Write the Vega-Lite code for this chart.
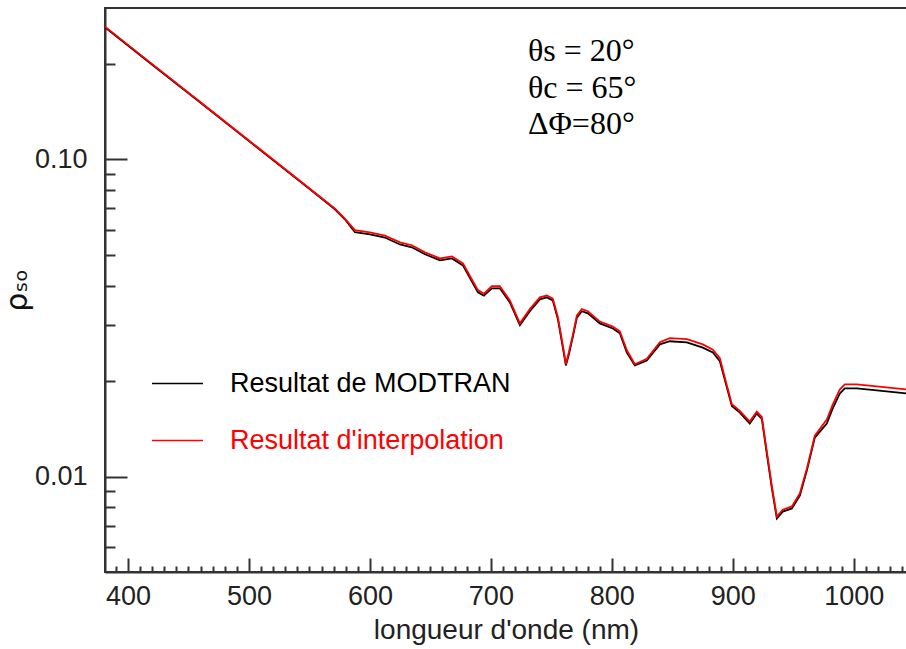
{
  "$schema": "https://vega.github.io/schema/vega-lite/v6.json",
  "width": 802,
  "height": 564,
  "autosize": {"type": "none"},
  "padding": {"left": 105, "top": 8, "right": 0, "bottom": 77},
  "background": "white",
  "config": {"view": {"stroke": "#333", "strokeWidth": 2}, "font": "Liberation Sans"},
  "datasets": {
    "curves": [
      {"lam": 381.0, "val": 0.2609, "series": "Resultat de MODTRAN"},
      {"lam": 418.2, "val": 0.2013, "series": "Resultat de MODTRAN"},
      {"lam": 459.5, "val": 0.1513, "series": "Resultat de MODTRAN"},
      {"lam": 500.8, "val": 0.1135, "series": "Resultat de MODTRAN"},
      {"lam": 542.1, "val": 0.0852, "series": "Resultat de MODTRAN"},
      {"lam": 558.7, "val": 0.0759, "series": "Resultat de MODTRAN"},
      {"lam": 571.1, "val": 0.0696, "series": "Resultat de MODTRAN"},
      {"lam": 579.3, "val": 0.0647, "series": "Resultat de MODTRAN"},
      {"lam": 587.6, "val": 0.0589, "series": "Resultat de MODTRAN"},
      {"lam": 600.0, "val": 0.0580, "series": "Resultat de MODTRAN"},
      {"lam": 612.4, "val": 0.0567, "series": "Resultat de MODTRAN"},
      {"lam": 624.8, "val": 0.0539, "series": "Resultat de MODTRAN"},
      {"lam": 634.7, "val": 0.0528, "series": "Resultat de MODTRAN"},
      {"lam": 645.5, "val": 0.0502, "series": "Resultat de MODTRAN"},
      {"lam": 657.9, "val": 0.0480, "series": "Resultat de MODTRAN"},
      {"lam": 667.8, "val": 0.0487, "series": "Resultat de MODTRAN"},
      {"lam": 676.9, "val": 0.0463, "series": "Resultat de MODTRAN"},
      {"lam": 684.3, "val": 0.0412, "series": "Resultat de MODTRAN"},
      {"lam": 689.3, "val": 0.0381, "series": "Resultat de MODTRAN"},
      {"lam": 694.2, "val": 0.0372, "series": "Resultat de MODTRAN"},
      {"lam": 700.8, "val": 0.0392, "series": "Resultat de MODTRAN"},
      {"lam": 707.4, "val": 0.0392, "series": "Resultat de MODTRAN"},
      {"lam": 715.7, "val": 0.0354, "series": "Resultat de MODTRAN"},
      {"lam": 724.0, "val": 0.0300, "series": "Resultat de MODTRAN"},
      {"lam": 732.2, "val": 0.0332, "series": "Resultat de MODTRAN"},
      {"lam": 740.5, "val": 0.0362, "series": "Resultat de MODTRAN"},
      {"lam": 746.3, "val": 0.0367, "series": "Resultat de MODTRAN"},
      {"lam": 751.2, "val": 0.0359, "series": "Resultat de MODTRAN"},
      {"lam": 755.4, "val": 0.0313, "series": "Resultat de MODTRAN"},
      {"lam": 759.5, "val": 0.0255, "series": "Resultat de MODTRAN"},
      {"lam": 762.0, "val": 0.0224, "series": "Resultat de MODTRAN"},
      {"lam": 764.5, "val": 0.0243, "series": "Resultat de MODTRAN"},
      {"lam": 767.8, "val": 0.0276, "series": "Resultat de MODTRAN"},
      {"lam": 771.1, "val": 0.0317, "series": "Resultat de MODTRAN"},
      {"lam": 775.2, "val": 0.0332, "series": "Resultat de MODTRAN"},
      {"lam": 780.2, "val": 0.0327, "series": "Resultat de MODTRAN"},
      {"lam": 790.1, "val": 0.0304, "series": "Resultat de MODTRAN"},
      {"lam": 800.8, "val": 0.0293, "series": "Resultat de MODTRAN"},
      {"lam": 806.6, "val": 0.0283, "series": "Resultat de MODTRAN"},
      {"lam": 812.4, "val": 0.0246, "series": "Resultat de MODTRAN"},
      {"lam": 819.0, "val": 0.0224, "series": "Resultat de MODTRAN"},
      {"lam": 828.9, "val": 0.0232, "series": "Resultat de MODTRAN"},
      {"lam": 839.7, "val": 0.0261, "series": "Resultat de MODTRAN"},
      {"lam": 847.9, "val": 0.0267, "series": "Resultat de MODTRAN"},
      {"lam": 862.0, "val": 0.0265, "series": "Resultat de MODTRAN"},
      {"lam": 875.2, "val": 0.0255, "series": "Resultat de MODTRAN"},
      {"lam": 883.5, "val": 0.0246, "series": "Resultat de MODTRAN"},
      {"lam": 889.3, "val": 0.0231, "series": "Resultat de MODTRAN"},
      {"lam": 893.4, "val": 0.0202, "series": "Resultat de MODTRAN"},
      {"lam": 899.2, "val": 0.0167, "series": "Resultat de MODTRAN"},
      {"lam": 905.8, "val": 0.0159, "series": "Resultat de MODTRAN"},
      {"lam": 914.0, "val": 0.0147, "series": "Resultat de MODTRAN"},
      {"lam": 919.8, "val": 0.0158, "series": "Resultat de MODTRAN"},
      {"lam": 924.0, "val": 0.0152, "series": "Resultat de MODTRAN"},
      {"lam": 928.1, "val": 0.0118, "series": "Resultat de MODTRAN"},
      {"lam": 932.2, "val": 0.00923, "series": "Resultat de MODTRAN"},
      {"lam": 936.4, "val": 0.00737, "series": "Resultat de MODTRAN"},
      {"lam": 941.3, "val": 0.00775, "series": "Resultat de MODTRAN"},
      {"lam": 948.8, "val": 0.00793, "series": "Resultat de MODTRAN"},
      {"lam": 955.4, "val": 0.00871, "series": "Resultat de MODTRAN"},
      {"lam": 961.2, "val": 0.01044, "series": "Resultat de MODTRAN"},
      {"lam": 967.8, "val": 0.01327, "series": "Resultat de MODTRAN"},
      {"lam": 977.7, "val": 0.01469, "series": "Resultat de MODTRAN"},
      {"lam": 982.6, "val": 0.01639, "series": "Resultat de MODTRAN"},
      {"lam": 988.4, "val": 0.01827, "series": "Resultat de MODTRAN"},
      {"lam": 992.6, "val": 0.01895, "series": "Resultat de MODTRAN"},
      {"lam": 1002.5, "val": 0.01895, "series": "Resultat de MODTRAN"},
      {"lam": 1019.0, "val": 0.01868, "series": "Resultat de MODTRAN"},
      {"lam": 1044.0, "val": 0.01827, "series": "Resultat de MODTRAN"},
      {"lam": 381.0, "val": 0.2619, "series": "Resultat d'interpolation"},
      {"lam": 418.2, "val": 0.2021, "series": "Resultat d'interpolation"},
      {"lam": 459.5, "val": 0.1519, "series": "Resultat d'interpolation"},
      {"lam": 500.8, "val": 0.1140, "series": "Resultat d'interpolation"},
      {"lam": 542.1, "val": 0.0856, "series": "Resultat d'interpolation"},
      {"lam": 558.7, "val": 0.0762, "series": "Resultat d'interpolation"},
      {"lam": 571.1, "val": 0.0699, "series": "Resultat d'interpolation"},
      {"lam": 579.3, "val": 0.0650, "series": "Resultat d'interpolation"},
      {"lam": 587.6, "val": 0.0598, "series": "Resultat d'interpolation"},
      {"lam": 600.0, "val": 0.0588, "series": "Resultat d'interpolation"},
      {"lam": 612.4, "val": 0.0575, "series": "Resultat d'interpolation"},
      {"lam": 624.8, "val": 0.0547, "series": "Resultat d'interpolation"},
      {"lam": 634.7, "val": 0.0536, "series": "Resultat d'interpolation"},
      {"lam": 645.5, "val": 0.0509, "series": "Resultat d'interpolation"},
      {"lam": 657.9, "val": 0.0487, "series": "Resultat d'interpolation"},
      {"lam": 667.8, "val": 0.0494, "series": "Resultat d'interpolation"},
      {"lam": 676.9, "val": 0.0470, "series": "Resultat d'interpolation"},
      {"lam": 684.3, "val": 0.0418, "series": "Resultat d'interpolation"},
      {"lam": 689.3, "val": 0.0387, "series": "Resultat d'interpolation"},
      {"lam": 694.2, "val": 0.0377, "series": "Resultat d'interpolation"},
      {"lam": 700.8, "val": 0.0398, "series": "Resultat d'interpolation"},
      {"lam": 707.4, "val": 0.0398, "series": "Resultat d'interpolation"},
      {"lam": 715.7, "val": 0.0359, "series": "Resultat d'interpolation"},
      {"lam": 724.0, "val": 0.0304, "series": "Resultat d'interpolation"},
      {"lam": 732.2, "val": 0.0337, "series": "Resultat d'interpolation"},
      {"lam": 740.5, "val": 0.0367, "series": "Resultat d'interpolation"},
      {"lam": 746.3, "val": 0.0372, "series": "Resultat d'interpolation"},
      {"lam": 751.2, "val": 0.0364, "series": "Resultat d'interpolation"},
      {"lam": 755.4, "val": 0.0318, "series": "Resultat d'interpolation"},
      {"lam": 759.5, "val": 0.0259, "series": "Resultat d'interpolation"},
      {"lam": 762.0, "val": 0.0226, "series": "Resultat d'interpolation"},
      {"lam": 764.5, "val": 0.0247, "series": "Resultat d'interpolation"},
      {"lam": 767.8, "val": 0.0280, "series": "Resultat d'interpolation"},
      {"lam": 771.1, "val": 0.0322, "series": "Resultat d'interpolation"},
      {"lam": 775.2, "val": 0.0337, "series": "Resultat d'interpolation"},
      {"lam": 780.2, "val": 0.0332, "series": "Resultat d'interpolation"},
      {"lam": 790.1, "val": 0.0308, "series": "Resultat d'interpolation"},
      {"lam": 800.8, "val": 0.0297, "series": "Resultat d'interpolation"},
      {"lam": 806.6, "val": 0.0287, "series": "Resultat d'interpolation"},
      {"lam": 812.4, "val": 0.0250, "series": "Resultat d'interpolation"},
      {"lam": 819.0, "val": 0.0226, "series": "Resultat d'interpolation"},
      {"lam": 828.9, "val": 0.0235, "series": "Resultat d'interpolation"},
      {"lam": 839.7, "val": 0.0265, "series": "Resultat d'interpolation"},
      {"lam": 847.9, "val": 0.0273, "series": "Resultat d'interpolation"},
      {"lam": 862.0, "val": 0.0271, "series": "Resultat d'interpolation"},
      {"lam": 875.2, "val": 0.0261, "series": "Resultat d'interpolation"},
      {"lam": 883.5, "val": 0.0251, "series": "Resultat d'interpolation"},
      {"lam": 889.3, "val": 0.0236, "series": "Resultat d'interpolation"},
      {"lam": 893.4, "val": 0.0205, "series": "Resultat d'interpolation"},
      {"lam": 899.2, "val": 0.0169, "series": "Resultat d'interpolation"},
      {"lam": 905.8, "val": 0.0161, "series": "Resultat d'interpolation"},
      {"lam": 914.0, "val": 0.0149, "series": "Resultat d'interpolation"},
      {"lam": 919.8, "val": 0.0160, "series": "Resultat d'interpolation"},
      {"lam": 924.0, "val": 0.0154, "series": "Resultat d'interpolation"},
      {"lam": 928.1, "val": 0.0120, "series": "Resultat d'interpolation"},
      {"lam": 932.2, "val": 0.00937, "series": "Resultat d'interpolation"},
      {"lam": 936.4, "val": 0.00748, "series": "Resultat d'interpolation"},
      {"lam": 941.3, "val": 0.00786, "series": "Resultat d'interpolation"},
      {"lam": 948.8, "val": 0.00805, "series": "Resultat d'interpolation"},
      {"lam": 955.4, "val": 0.00884, "series": "Resultat d'interpolation"},
      {"lam": 961.2, "val": 0.01059, "series": "Resultat d'interpolation"},
      {"lam": 967.8, "val": 0.01346, "series": "Resultat d'interpolation"},
      {"lam": 977.7, "val": 0.01512, "series": "Resultat d'interpolation"},
      {"lam": 982.6, "val": 0.01687, "series": "Resultat d'interpolation"},
      {"lam": 988.4, "val": 0.01881, "series": "Resultat d'interpolation"},
      {"lam": 992.6, "val": 0.01951, "series": "Resultat d'interpolation"},
      {"lam": 1002.5, "val": 0.01951, "series": "Resultat d'interpolation"},
      {"lam": 1019.0, "val": 0.01923, "series": "Resultat d'interpolation"},
      {"lam": 1044.0, "val": 0.01881, "series": "Resultat d'interpolation"}
    ],
    "notes": [
      {"lam": 730.6, "val": 0.2038, "label": "θs = 20°"},
      {"lam": 730.6, "val": 0.1563, "label": "θc = 65°"},
      {"lam": 730.6, "val": 0.1199, "label": "ΔΦ=80°"}
    ]
  },
  "resolve": {"axis": {"x": "independent", "y": "independent"}},
  "layer": [
    {
      "data": {"name": "curves"},
      "transform": [{"filter": "datum.series === 'Resultat de MODTRAN'"}],
      "mark": {"type": "line", "strokeWidth": 1.8, "clip": true},
      "encoding": {
        "x": {
          "field": "lam", "type": "quantitative",
          "scale": {"domain": [381, 1044], "nice": false, "zero": false},
          "axis": {
            "orient": "bottom",
            "title": "longueur d'onde (nm)",
            "values": [400, 500, 600, 700, 800, 900, 1000],
            "format": "d",
            "tickSize": -14,
            "tickColor": "#333", "tickWidth": 2,
            "domainColor": "#333", "domainWidth": 2,
            "labelFont": "Liberation Sans", "labelFontSize": 27, "labelColor": "#222",
            "labelPadding": 25, "labelOverlap": false, "labelFlush": false, "labelBound": false,
            "titleFont": "Liberation Sans", "titleFontSize": 28, "titleFontWeight": "normal", "titleColor": "#222",
            "titlePadding": 7, "grid": false
          }
        },
        "y": {
          "field": "val", "type": "quantitative",
          "scale": {"type": "log", "domain": [0.005, 0.3], "nice": false},
          "axis": {
            "orient": "left",
            "title": "ρₛₒ",
            "values": [0.01, 0.1],
            "format": ".2f",
            "tickSize": -22,
            "tickColor": "#333", "tickWidth": 2,
            "domainColor": "#333", "domainWidth": 2,
            "labelFont": "Liberation Sans", "labelFontSize": 27, "labelColor": "#222",
            "labelPadding": 40, "labelOverlap": false, "labelFlush": false, "labelBound": false,
            "titleFont": "DejaVu Sans", "titleFontSize": 30, "titleFontWeight": "normal", "titleColor": "#111",
            "titlePadding": 2, "grid": false
          }
        },
        "color": {
          "field": "series", "type": "nominal",
          "scale": {"domain": ["Resultat de MODTRAN", "Resultat d'interpolation"], "range": ["#000000", "#ff0000"]},
          "legend": {
            "title": null, "orient": "none", "legendX": 46, "legendY": 349,
            "symbolType": "stroke", "symbolSize": 2601, "symbolStrokeWidth": 1.5,
            "labelFont": "Liberation Sans", "labelFontSize": 27, "labelOffset": 26, "labelLimit": 500,
            "rowPadding": 17, "padding": 0,
            "encode": {"labels": {"update": {"fill": {"scale": "color", "field": "value"}}}}
          }
        }
      }
    },
    {
      "data": {"name": "curves"},
      "transform": [{"filter": "datum.series === \"Resultat d'interpolation\""}],
      "mark": {"type": "line", "strokeWidth": 1.8, "clip": true},
      "encoding": {
        "x": {
          "field": "lam", "type": "quantitative",
          "axis": {
            "orient": "bottom", "title": null, "labels": false, "domain": false, "grid": false,
            "values": [390, 410, 420, 430, 440, 450, 460, 470, 480, 490, 510, 520, 530, 540, 550, 560, 570, 580, 590, 610, 620, 630, 640, 650, 660, 670, 680, 690, 710, 720, 730, 740, 750, 760, 770, 780, 790, 810, 820, 830, 840, 850, 860, 870, 880, 890, 910, 920, 930, 940, 950, 960, 970, 980, 990, 1010, 1020, 1030, 1040],
            "tickSize": -6, "tickColor": "#333", "tickWidth": 2
          }
        },
        "y": {
          "field": "val", "type": "quantitative",
          "axis": {
            "orient": "left", "title": null, "labels": false, "domain": false, "grid": false,
            "values": [0.006, 0.007, 0.008, 0.009, 0.02, 0.03, 0.04, 0.05, 0.06, 0.07, 0.08, 0.09, 0.2],
            "tickSize": -10, "tickColor": "#333", "tickWidth": 2
          }
        },
        "color": {"field": "series", "type": "nominal"}
      }
    },
    {
      "data": {"name": "notes"},
      "mark": {"type": "text", "font": "Liberation Serif", "fontSize": 32, "align": "left", "baseline": "alphabetic", "color": "#000"},
      "encoding": {
        "x": {"field": "lam", "type": "quantitative", "axis": null},
        "y": {"field": "val", "type": "quantitative", "axis": null},
        "text": {"field": "label", "type": "nominal"}
      }
    }
  ]
}
